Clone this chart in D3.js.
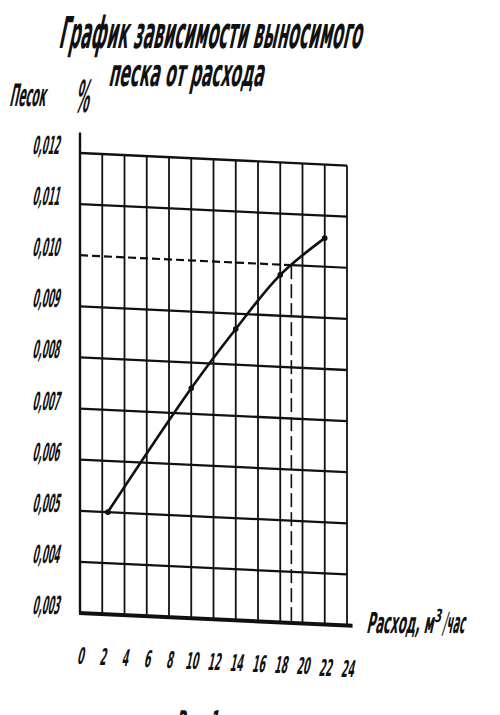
<!DOCTYPE html>
<html><head><meta charset="utf-8">
<script src="https://cdn.jsdelivr.net/npm/d3@7/dist/d3.min.js"></script>
<style>
html,body{margin:0;padding:0;background:#fff;}
svg{display:block;}
text{font-family:"Liberation Sans Narrow","DejaVu Sans Condensed",sans-serif;font-weight:bold;fill:#111;}
</style></head>
<body>
<script>
// ---- data ----
const xTicks = [0,2,4,6,8,10,12,14,16,18,20,22,24];
const xTickLabels = ["0","2","4","6","8","10","12","14","16","18","20","22","24"];
const yTicks = [0.003,0.004,0.005,0.006,0.007,0.008,0.009,0.010,0.011,0.012];
const yTickLabels = ["0,003","0,004","0,005","0,006","0,007","0,008","0,009","0,010","0,011","0,012"];
const flow = [2.5, 10, 14, 18, 22];               // Расход, м3/час
const sand = [0.0050, 0.0075, 0.0087, 0.0098, 0.01056]; // Песок, %
const refFlow = 19, refSand = 0.010;
const titleLines = ["График зависимости выносимого","песка от расхода"];

const W = 500, H = 715;
const svg = d3.select("body").append("svg").attr("width",W).attr("height",H);
svg.append("rect").attr("width",W).attr("height",H).attr("fill","#fff");

const x = d3.scaleLinear().domain([0,24]).range([80,347]);
const y = d3.scaleLinear().domain([0.003,0.012]).range([613,153]);
const k = 0.047; // slant of the scanned sheet
const shearY = px => k*(px-80);

const g = svg.append("g").attr("transform",`matrix(1,${k},0,1,0,${-k*80})`);
const ink = "#111";

// horizontal grid
yTicks.filter(v => v!==0.003 && v!==0.010).forEach(v=>{
  g.append("line").attr("x1",x(0)).attr("x2",x(24)).attr("y1",y(v)).attr("y2",y(v))
   .attr("stroke",ink).attr("stroke-width",2.3);
});
// 0.010 line: dashed up to the reference point, solid afterwards
g.append("line").attr("x1",x(0)).attr("x2",x(refFlow)).attr("y1",y(refSand)).attr("y2",y(refSand))
 .attr("stroke",ink).attr("stroke-width",2.2).attr("stroke-dasharray","8,4");
g.append("line").attr("x1",x(refFlow)).attr("x2",x(24)).attr("y1",y(refSand)).attr("y2",y(refSand))
 .attr("stroke",ink).attr("stroke-width",2.2);
// vertical grid
xTicks.filter(v=>v>0).forEach(v=>{
  g.append("line").attr("x1",x(v)).attr("x2",x(v)).attr("y1",y(0.003)).attr("y2",y(0.012))
   .attr("stroke",ink).attr("stroke-width",1.8);
});
// vertical dashed reference
g.append("line").attr("x1",x(refFlow)).attr("x2",x(refFlow)).attr("y1",y(refSand)).attr("y2",y(0.003))
 .attr("stroke",ink).attr("stroke-width",1.6).attr("stroke-dasharray","14,5");
// left axis
g.append("line").attr("x1",x(0)).attr("x2",x(0)).attr("y1",y(0.003)).attr("y2",y(0.0124))
 .attr("stroke",ink).attr("stroke-width",2.4);
// bottom axis
g.append("line").attr("x1",x(0)-1).attr("x2",x(24.5)).attr("y1",y(0.003)).attr("y2",y(0.003))
 .attr("stroke",ink).attr("stroke-width",4);

// curve
const pts = flow.map((f,i)=>[f,sand[i]]);
g.append("path").datum(pts)
 .attr("d",d3.line().x(d=>x(d[0])).y(d=>y(d[1])).curve(d3.curveCatmullRom))
 .attr("fill","none").attr("stroke",ink).attr("stroke-width",2.6);
g.selectAll("circle.pt").data(pts).enter().append("circle")
 .attr("cx",d=>x(d[0])).attr("cy",d=>y(d[1])).attr("r",2.8).attr("fill",ink);

// slanted, horizontally compressed drafting-style text
function label(px, py, str, size, len, anchor){
  const t = svg.append("text").attr("font-size",size)
    .attr("text-anchor",anchor||"start").text(str);
  const nat = t.node().getComputedTextLength() || 1;
  const sx = len ? len/nat : 1;
  t.attr("transform",`translate(${px},${py}) skewX(-12) scale(${sx},1)`);
  return t;
}

// y tick labels
yTicks.forEach((v,i)=> label(59, y(v)+1, yTickLabels[i], 25, 27, "end"));
// x tick labels
xTicks.forEach((v,i)=>{
  const s = xTickLabels[i];
  label(x(v), 664+shearY(x(v)), s, 23, s.length*6.5, "middle");
});

// titles
label(58, 48, titleLines[0], 44, 303);
label(108, 86, titleLines[1], 38, 155);

// y axis label
label(9, 106, "Песок", 31, 36);
label(74, 112, "%", 44, 14);

// x axis label
label(366, 633, "Расход, м", 29, 67);
label(434, 622, "3", 18, 7);
label(442, 633, "/час", 29, 22);

// figure caption (cut by the page edge)
label(175, 732, "Рис. 1", 30, 42);
</script>
</body></html>
